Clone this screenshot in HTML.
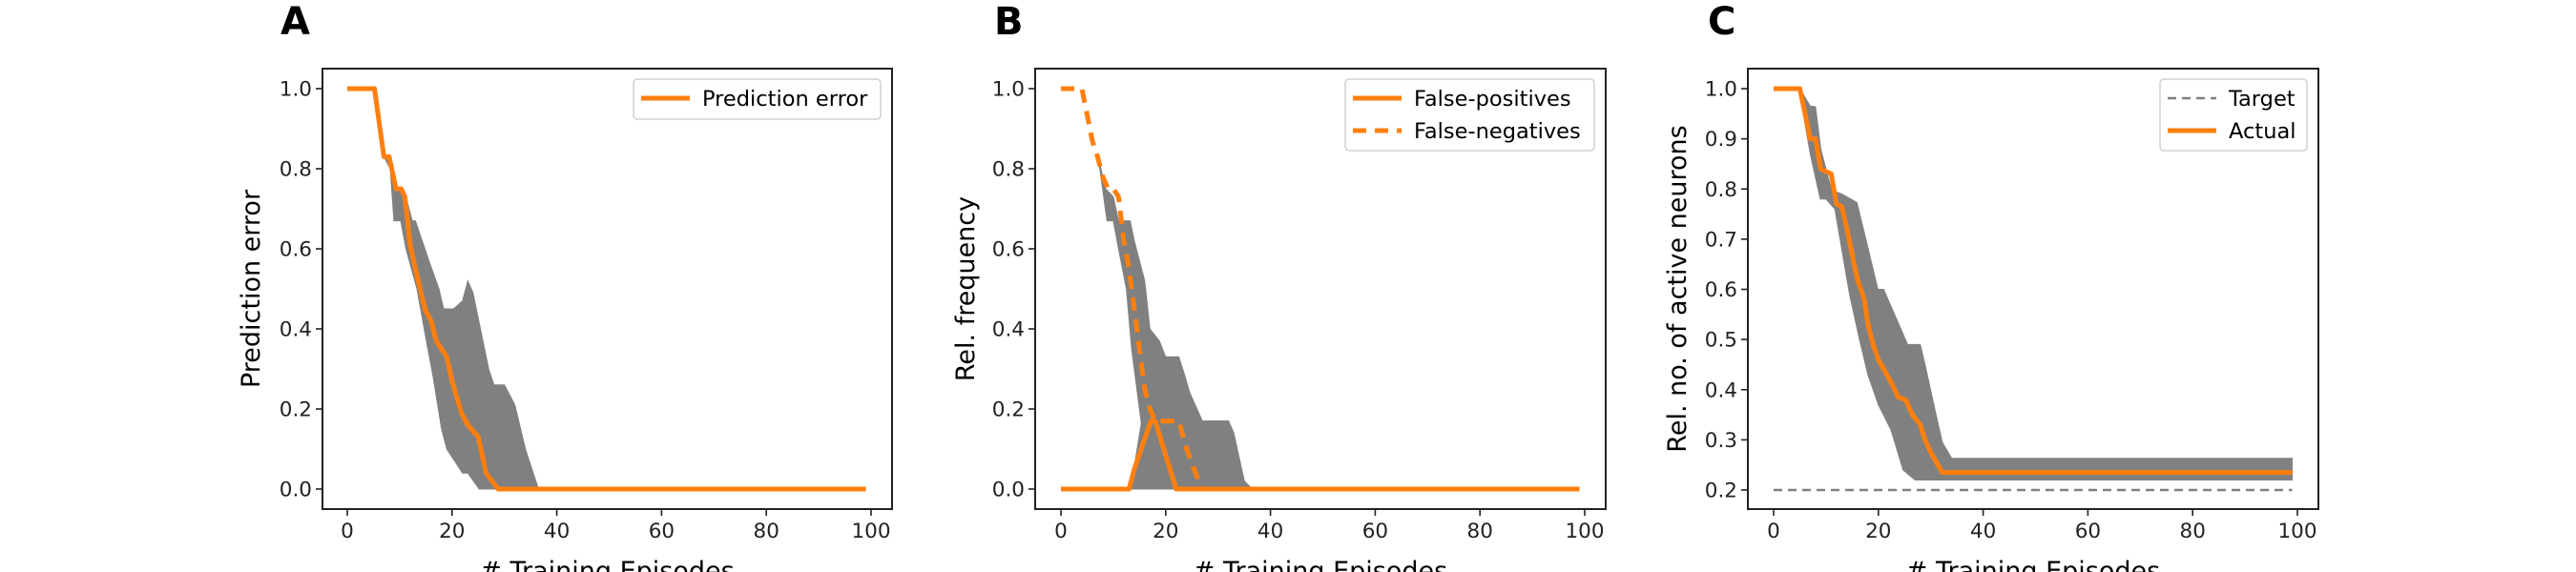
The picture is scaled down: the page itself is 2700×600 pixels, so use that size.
<!DOCTYPE html>
<html><head><meta charset="utf-8"><style>
body{margin:0;background:#fff;}
svg{display:block;font-family:"DejaVu Sans","Liberation Sans",sans-serif;}
</style></head><body>
<svg id="fig" width="2700" height="600" viewBox="0 0 2700 600"></svg>
<script>
// ---------- Panel A data ----------
const aMeanX=[0,5.2,7,8,9.3,10.3,11,12,13,14.8,16,17,19,20,21.8,23,25,26.5,28.8,99];
const aMeanY=[1,1,0.83,0.83,0.75,0.75,0.73,0.61,0.55,0.45,0.42,0.37,0.33,0.27,0.19,0.16,0.13,0.04,0,0];
const aUpX=[0,5.2,7,8,9.3,10.3,11,12.4,13,15.6,17.5,18.4,20.3,22,23,24,27,28,30,32,34,36.5,99];
const aUpY=[1,1,0.83,0.83,0.75,0.75,0.74,0.67,0.67,0.57,0.5,0.45,0.45,0.47,0.52,0.49,0.3,0.26,0.26,0.21,0.1,0,0];
const aLoX=[0,5.2,7,8.2,8.9,10.2,11.2,13.3,15.1,16.4,18,19,22,23,25.2,99];
const aLoY=[1,1,0.83,0.8,0.67,0.67,0.6,0.5,0.37,0.28,0.15,0.1,0.04,0.04,0,0];
// ---------- Panel B data ----------
const bFnX=[0,4,6,7,8,9,10,11,12,13,14,15,16,17,18,22.5,24,26,27,99];
const bFnY=[1,1,0.87,0.83,0.78,0.75,0.75,0.73,0.62,0.55,0.45,0.35,0.25,0.2,0.17,0.17,0.1,0.03,0,0];
const bFpX=[0,13,14,17.2,18,22,99];
const bFpY=[0,0,0.05,0.17,0.17,0,0];
const bFnUpX=[7.1,8.5,10,11,13.2,14,16,17,18.8,20,22.5,23.5,24.6,27,32,33,35,36.5];
const bFnUpY=[0.83,0.75,0.73,0.67,0.67,0.62,0.52,0.4,0.37,0.33,0.33,0.29,0.24,0.17,0.17,0.14,0.02,0];
const bFnLoX=[7.1,8.8,10,11,12.5,13.5,15,16,17];
const bFnLoY=[0.83,0.67,0.67,0.6,0.5,0.35,0.2,0.1,0];
const bFpUpX=[13.3,15.8,17,20,22.5,24.5,27,32,35,36.5,99];
const bFpUpY=[0,0.2,0.2,0.33,0.33,0.24,0.17,0.17,0.02,0,0];
// ---------- Panel C data ----------
const cMeanX=[0,5,6,7,8,9,11,12,13,14,15,16,17.3,18,19,20,22.4,23.8,25.2,26.5,28,28.9,30,32.2,99];
const cMeanY=[1,1,0.95,0.9,0.9,0.84,0.83,0.77,0.765,0.72,0.67,0.62,0.58,0.53,0.49,0.46,0.415,0.385,0.38,0.35,0.33,0.3,0.275,0.235,0.235];
const cUpX=[0,5,7,8,9,11,11.7,13,15.9,17.7,19.9,21,25.6,28,28.9,30.8,32.2,34,99];
const cUpY=[1,1,0.965,0.964,0.88,0.8,0.795,0.79,0.773,0.696,0.6,0.6,0.49,0.49,0.45,0.36,0.295,0.263,0.263];
const cLoX=[0,5,6,7,8.9,10,11.7,13,14.5,16.4,18,20,22.4,24.7,27,99];
const cLoY=[1,1,0.93,0.87,0.78,0.78,0.76,0.68,0.59,0.5,0.43,0.37,0.32,0.24,0.22,0.22];
const cTargetX=[0,99];
const cTargetY=[0.2,0.2];
const xTicks=[0,20,40,60,80,100];
const abTicks=[0,0.2,0.4,0.6,0.8,1.0];
const cTicks=[0.2,0.3,0.4,0.5,0.6,0.7,0.8,0.9,1.0];

const NS="http://www.w3.org/2000/svg";
const svg=document.getElementById('fig');
function mk(tag,attrs,parent,text){const e=document.createElementNS(NS,tag);for(const k in attrs)e.setAttribute(k,attrs[k]);if(text!==undefined)e.textContent=text;(parent||svg).appendChild(e);return e;}

function panel(p){
  const g=mk('g',{});
  
  
  const sx=v=>p.x0+(v-0)*(p.x100-p.x0)/100;
  const sy=v=>p.yb+(v-p.vb)*(p.yt-p.yb)/(p.vt-p.vb);
  const lt=mk('text',{x:p.letterX,y:36,'font-size':40,'font-weight':'bold',fill:'#000'},g,p.letter);
  
  
  const cg=mk('g',{},g);
  
  
  p.draw(cg,sx,sy);
  const fr=mk('rect',{x:p.L,y:72,width:p.R-p.L,height:462,fill:'none',stroke:'#222','stroke-width':2},g);
  
  
  xTicks.forEach(t=>{const X=sx(t);
    mk('line',{x1:X,x2:X,y1:534,y2:541,stroke:'#222','stroke-width':1.6},g);
    const tx=mk('text',{x:X,y:564,'font-size':21.5,'text-anchor':'middle',fill:'#222'},g,String(t));
    
    });
  p.yTicks.forEach(t=>{const Y=sy(t);
    mk('line',{x1:p.L-7,x2:p.L,y1:Y,y2:Y,stroke:'#222','stroke-width':1.6},g);
    const tx=mk('text',{x:p.L-11,y:Y+7.5,'font-size':21.5,'text-anchor':'end',fill:'#222'},g,t.toFixed(1));
    
    });
  const xl=mk('text',{x:(p.L+p.R)/2,y:608,'font-size':27,'text-anchor':'middle',fill:'#000'},g,'# Training Episodes');
  
  
  const yl=mk('text',{x:0,y:0,'font-size':27,'text-anchor':'middle',fill:'#000',transform:`translate(${p.yLabelX},303) rotate(-90)`},g,p.yLabel);
  
  
  const lg=mk('g',{},g);
  
  
  const h=p.legend.length===1?42:75;
  mk('rect',{x:p.lgX,y:83,width:p.lgW,height:h,rx:4,fill:'#fff',stroke:'#d0d0d0','stroke-width':1.5},lg);
  p.legend.forEach((e,i)=>{const Y=103+i*34;
    const le=mk('g',{},lg);
    
    
    mk('line',{x1:p.lgX+8,x2:p.lgX+59,y1:Y,y2:Y,stroke:e.c,'stroke-width':e.w,'stroke-dasharray':e.d||'none'},le);
    mk('text',{x:p.lgX+72,y:Y+8,'font-size':22.5,fill:'#000'},le,e.t);});
}
function pts(xs,ys,sx,sy){return xs.map((x,i)=>sx(x).toFixed(1)+','+sy(ys[i]).toFixed(1));}
function band(g,ux,uy,lx,ly,sx,sy,name){
  const a=pts(ux,uy,sx,sy),b=pts(lx,ly,sx,sy).reverse();
  const e=mk('polygon',{points:a.concat(b).join(' '),fill:'#808080',stroke:'#808080','stroke-width':1},g);
  
  
}
function line(g,xs,ys,sx,sy,name,color,w,dash){
  const e=mk('polyline',{points:pts(xs,ys,sx,sy).join(' '),fill:'none',stroke:color,'stroke-width':w,'stroke-linejoin':'round','stroke-dasharray':dash||'none'},g);
  
  
}
const OR='#ff7f0e';
panel({name:'panel-a',letter:'A',letterX:294,L:338,R:935,x0:364,x100:913,yb:513,yt:93,vb:0,vt:1,yTicks:abTicks,
  yLabel:'Prediction error',yLabelX:272,lgX:664,lgW:259,
  legend:[{t:'Prediction error',c:OR,w:5}],
  draw:(g,sx,sy)=>{band(g,aUpX,aUpY,aLoX,aLoY,sx,sy,'error-band');line(g,aMeanX,aMeanY,sx,sy,'prediction-error-line',OR,5);}});
panel({name:'panel-b',letter:'B',letterX:1042,L:1085,R:1683,x0:1112,x100:1661,yb:513,yt:93,vb:0,vt:1,yTicks:abTicks,
  yLabel:'Rel. frequency',yLabelX:1021,lgX:1410,lgW:261,
  legend:[{t:'False-positives',c:OR,w:5},{t:'False-negatives',c:OR,w:5,d:'14,9'}],
  draw:(g,sx,sy)=>{band(g,bFnUpX,bFnUpY,bFnLoX,bFnLoY,sx,sy,'false-negatives-band');
    band(g,bFpUpX,bFpUpY,[13.3,99],[0,0],sx,sy,'false-positives-band');
    line(g,bFpX,bFpY,sx,sy,'false-positives-line',OR,5);
    line(g,bFnX,bFnY,sx,sy,'false-negatives-line',OR,5,'14,9');}});
panel({name:'panel-c',letter:'C',letterX:1790,L:1832,R:2430,x0:1859,x100:2408,yb:514,yt:93,vb:0.2,vt:1,yTicks:cTicks,
  yLabel:'Rel. no. of active neurons',yLabelX:1767,lgX:2264,lgW:154,
  legend:[{t:'Target',c:'#808080',w:2.5,d:'9,6'},{t:'Actual',c:OR,w:5}],
  draw:(g,sx,sy)=>{band(g,cUpX,cUpY,cLoX,cLoY,sx,sy,'actual-band');
    line(g,cTargetX,cTargetY,sx,sy,'target-line','#808080',2.5,'9,6');
    line(g,cMeanX,cMeanY,sx,sy,'actual-line',OR,5);}});
</script>
</body></html>
